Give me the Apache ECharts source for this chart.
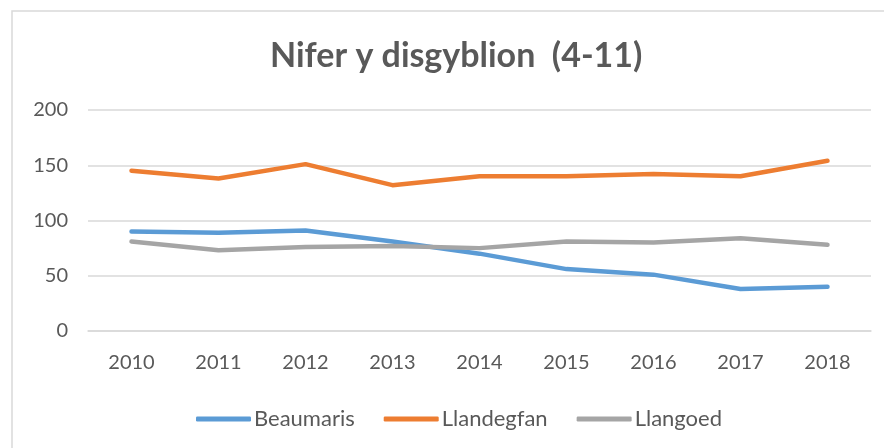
<!DOCTYPE html>
<html>
<head>
<meta charset="utf-8">
<script src="https://cdn.jsdelivr.net/npm/echarts@6/dist/echarts.min.js"></script>
<style>
  html, body { margin: 0; padding: 0; background: #fff; }
  #chart { width: 884px; height: 448px; }
</style>
</head>
<body>
<div id="chart"></div>
<script>
  var years = ['2010', '2011', '2012', '2013', '2014', '2015', '2016', '2017', '2018'];
  var beaumaris = [90, 89, 91, 81, 70, 56, 51, 38, 40];
  var llandegfan = [145, 138, 151, 132, 140, 140, 142, 140, 154];
  var llangoed = [81, 73, 76, 77, 75, 81, 80, 84, 78];

  var textColor = '#595959';
  var fontName = 'Lato';

  var chart = echarts.init(document.getElementById('chart'));

  function lineSeries(name, data, color) {
    return {
      name: name,
      type: 'line',
      data: data,
      symbol: 'none',
      silent: true,
      lineStyle: { color: color, width: 4.5, cap: 'round', join: 'round' },
      itemStyle: { color: color }
    };
  }

  chart.setOption({
    animation: false,
    backgroundColor: '#fff',
    graphic: [{
      // chart frame
      type: 'rect',
      shape: { x: 12, y: 11, width: 900, height: 460 },
      style: { fill: 'none', stroke: '#d9d9d9', lineWidth: 1.5 },
      silent: true
    }],
    title: {
      text: 'Nifer y disgyblion  (4-11)',
      left: 270,
      top: 39,
      padding: 0,
      textStyle: { fontFamily: fontName, fontSize: 34, fontWeight: 'bold', color: textColor }
    },
    legend: {
      left: 191,
      top: 403,
      itemWidth: 55,
      itemHeight: 5,
      itemGap: 29,
      icon: 'roundRect',
      textStyle: { fontFamily: fontName, fontSize: 22, color: textColor, padding: [0, 0, 0, -2] },
      data: ['Beaumaris', 'Llandegfan', 'Llangoed']
    },
    grid: { left: 88, right: 13, top: 110, bottom: 117 },
    xAxis: {
      type: 'category',
      data: years,
      boundaryGap: true,
      axisLine: { lineStyle: { color: '#d9d9d9', width: 1.5 } },
      axisTick: { show: false },
      axisLabel: { margin: 22, fontFamily: fontName, fontSize: 20, color: textColor }
    },
    yAxis: {
      type: 'value',
      min: 0,
      max: 200,
      interval: 50,
      axisLine: { show: false },
      axisTick: { show: false },
      axisLabel: { margin: 20, fontFamily: fontName, fontSize: 20, color: textColor },
      splitLine: { lineStyle: { color: '#d9d9d9', width: 1.5 } }
    },
    series: [
      lineSeries('Beaumaris', beaumaris, '#5b9bd5'),
      lineSeries('Llandegfan', llandegfan, '#ed7d31'),
      lineSeries('Llangoed', llangoed, '#a5a5a5')
    ]
  });
</script>
</body>
</html>
